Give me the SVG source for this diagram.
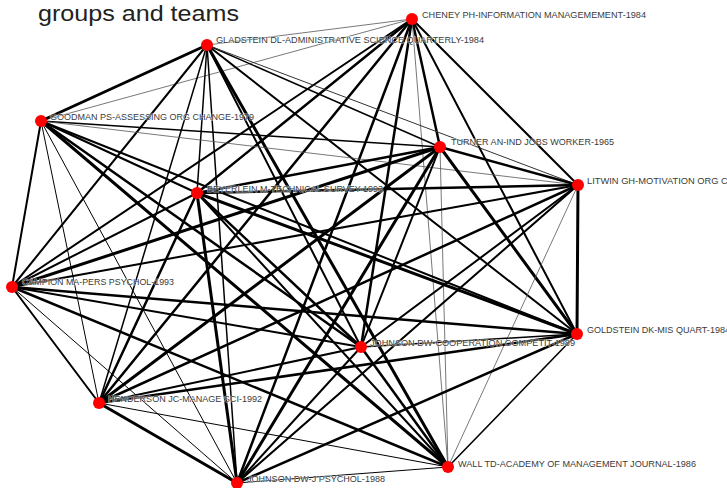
<svg xmlns="http://www.w3.org/2000/svg" width="727" height="488" viewBox="0 0 727 488">
<style>
.e{stroke:#000;stroke-linecap:round;fill:none}
.t{stroke:#555;stroke-width:0.8}
.n circle{fill:#f00}
.n text{font-family:"Liberation Sans",Arial,sans-serif;font-size:8.5px;fill:#3a3a3a;stroke:#fff;stroke-width:1.2px;stroke-opacity:0.6;paint-order:stroke}
.title{font-family:"Liberation Sans",Arial,sans-serif;font-size:22px;fill:#222}
</style>
<rect width="727" height="488" fill="#fff"/>
<text class="title" x="38" y="21" textLength="201" lengthAdjust="spacingAndGlyphs">groups and teams</text>
<g id="connectors" class="e">
<line x1="412" y1="19" x2="207" y2="45" class="t"/>
<line x1="412" y1="19" x2="41" y2="121" class="t"/>
<line x1="412" y1="19" x2="440" y2="147" stroke-width="2.5"/>
<line x1="412" y1="19" x2="578" y2="185" stroke-width="2"/>
<line x1="412" y1="19" x2="197" y2="193" stroke-width="2.5"/>
<line x1="412" y1="19" x2="12" y2="287" stroke-width="2"/>
<line x1="412" y1="19" x2="577" y2="334" stroke-width="2"/>
<line x1="412" y1="19" x2="361" y2="347" stroke-width="2.5"/>
<line x1="412" y1="19" x2="99" y2="403" stroke-width="2.5"/>
<line x1="412" y1="19" x2="448" y2="467" class="t"/>
<line x1="412" y1="19" x2="237" y2="483" stroke-width="2.5"/>
<line x1="207" y1="45" x2="41" y2="121" stroke-width="3"/>
<line x1="207" y1="45" x2="440" y2="147" stroke-width="1.5"/>
<line x1="207" y1="45" x2="578" y2="185" stroke-width="1" stroke="#333"/>
<line x1="207" y1="45" x2="197" y2="193" stroke-width="1.5"/>
<line x1="207" y1="45" x2="12" y2="287" stroke-width="2"/>
<line x1="207" y1="45" x2="577" y2="334" stroke-width="2"/>
<line x1="207" y1="45" x2="361" y2="347" stroke-width="2"/>
<line x1="207" y1="45" x2="99" y2="403" stroke-width="1.5"/>
<line x1="207" y1="45" x2="448" y2="467" stroke-width="3"/>
<line x1="207" y1="45" x2="237" y2="483" stroke-width="1.5"/>
<line x1="41" y1="121" x2="440" y2="147" stroke-width="1.5"/>
<line x1="41" y1="121" x2="578" y2="185" class="t"/>
<line x1="41" y1="121" x2="197" y2="193" stroke-width="2"/>
<line x1="41" y1="121" x2="12" y2="287" stroke-width="2"/>
<line x1="41" y1="121" x2="577" y2="334" stroke-width="2"/>
<line x1="41" y1="121" x2="361" y2="347" stroke-width="2.5"/>
<line x1="41" y1="121" x2="99" y2="403" stroke-width="1"/>
<line x1="41" y1="121" x2="448" y2="467" stroke-width="3"/>
<line x1="41" y1="121" x2="237" y2="483" stroke-width="1"/>
<line x1="440" y1="147" x2="578" y2="185" stroke-width="2.5"/>
<line x1="440" y1="147" x2="197" y2="193" stroke-width="2.5"/>
<line x1="440" y1="147" x2="12" y2="287" stroke-width="3"/>
<line x1="440" y1="147" x2="577" y2="334" stroke-width="3"/>
<line x1="440" y1="147" x2="361" y2="347" stroke-width="2"/>
<line x1="440" y1="147" x2="99" y2="403" stroke-width="3"/>
<line x1="440" y1="147" x2="448" y2="467" class="t"/>
<line x1="440" y1="147" x2="237" y2="483" stroke-width="3"/>
<line x1="578" y1="185" x2="197" y2="193" stroke-width="2.5"/>
<line x1="578" y1="185" x2="12" y2="287" stroke-width="2"/>
<line x1="578" y1="185" x2="577" y2="334" stroke-width="3"/>
<line x1="578" y1="185" x2="361" y2="347" stroke-width="2"/>
<line x1="578" y1="185" x2="99" y2="403" stroke-width="2.5"/>
<line x1="578" y1="185" x2="448" y2="467" class="t"/>
<line x1="578" y1="185" x2="237" y2="483" stroke-width="2"/>
<line x1="197" y1="193" x2="12" y2="287" stroke-width="2"/>
<line x1="197" y1="193" x2="577" y2="334" stroke-width="3"/>
<line x1="197" y1="193" x2="361" y2="347" stroke-width="2.5"/>
<line x1="197" y1="193" x2="99" y2="403" stroke-width="2.5"/>
<line x1="197" y1="193" x2="448" y2="467" stroke-width="2"/>
<line x1="197" y1="193" x2="237" y2="483" stroke-width="3"/>
<line x1="12" y1="287" x2="577" y2="334" stroke-width="2.5"/>
<line x1="12" y1="287" x2="361" y2="347" stroke-width="2"/>
<line x1="12" y1="287" x2="99" y2="403" stroke-width="2"/>
<line x1="12" y1="287" x2="448" y2="467" stroke-width="2.5"/>
<line x1="12" y1="287" x2="237" y2="483" stroke-width="1"/>
<line x1="577" y1="334" x2="361" y2="347" stroke-width="1.5"/>
<line x1="577" y1="334" x2="99" y2="403" stroke-width="2.5"/>
<line x1="577" y1="334" x2="448" y2="467" stroke-width="1.5"/>
<line x1="577" y1="334" x2="237" y2="483" stroke-width="2.5"/>
<line x1="361" y1="347" x2="99" y2="403" stroke-width="2"/>
<line x1="361" y1="347" x2="448" y2="467" stroke-width="2.5"/>
<line x1="361" y1="347" x2="237" y2="483" stroke-width="2"/>
<line x1="99" y1="403" x2="448" y2="467" stroke-width="1"/>
<line x1="99" y1="403" x2="237" y2="483" stroke-width="3"/>
<line x1="448" y1="467" x2="237" y2="483" stroke-width="1"/>
</g>
<g id="n-cheney" class="n"><circle cx="412" cy="19" r="6"/><text x="422" y="18" textLength="224" lengthAdjust="spacingAndGlyphs">CHENEY PH-INFORMATION MANAGEMEMENT-1984</text></g>
<g id="n-gladstein" class="n"><circle cx="207" cy="45" r="6"/><text x="216" y="43" textLength="268" lengthAdjust="spacingAndGlyphs">GLADSTEIN DL-ADMINISTRATIVE SCIENCE QUARTERLY-1984</text></g>
<g id="n-goodman" class="n"><circle cx="41" cy="121" r="6"/><text x="50" y="120" textLength="204" lengthAdjust="spacingAndGlyphs">GOODMAN PS-ASSESSING ORG CHANGE-1979</text></g>
<g id="n-turner" class="n"><circle cx="440" cy="147" r="6"/><text x="451" y="145" textLength="163" lengthAdjust="spacingAndGlyphs">TURNER AN-IND JOBS WORKER-1965</text></g>
<g id="n-litwin" class="n"><circle cx="578" cy="185" r="6"/><text x="587" y="184" textLength="146" lengthAdjust="spacingAndGlyphs">LITWIN GH-MOTIVATION ORG CL</text></g>
<g id="n-beyerlein" class="n"><circle cx="197" cy="193" r="6"/><text x="207" y="192" textLength="176" lengthAdjust="spacingAndGlyphs">BEYERLEIN M-TECHNICAL SURVEY-1993</text></g>
<g id="n-campion" class="n"><circle cx="12" cy="287" r="6"/><text x="22" y="285" textLength="152" lengthAdjust="spacingAndGlyphs">CAMPION MA-PERS PSYCHOL-1993</text></g>
<g id="n-goldstein" class="n"><circle cx="577" cy="334" r="6"/><text x="587" y="333" textLength="143" lengthAdjust="spacingAndGlyphs">GOLDSTEIN DK-MIS QUART-1984</text></g>
<g id="n-johnson-coop" class="n"><circle cx="361" cy="347" r="6"/><text x="370" y="346" textLength="205" lengthAdjust="spacingAndGlyphs">JOHNSON DW-COOPERATION COMPETIT-1989</text></g>
<g id="n-henderson" class="n"><circle cx="99" cy="403" r="6"/><text x="108" y="402" textLength="154" lengthAdjust="spacingAndGlyphs">HENDERSON JC-MANAGE SCI-1992</text></g>
<g id="n-wall" class="n"><circle cx="448" cy="467" r="6"/><text x="458" y="467" textLength="238" lengthAdjust="spacingAndGlyphs">WALL TD-ACADEMY OF MANAGEMENT JOURNAL-1986</text></g>
<g id="n-johnson-psych" class="n"><circle cx="237" cy="483" r="6"/><text x="247" y="482" textLength="138" lengthAdjust="spacingAndGlyphs">JOHNSON DW-J PSYCHOL-1988</text></g>
</svg>
